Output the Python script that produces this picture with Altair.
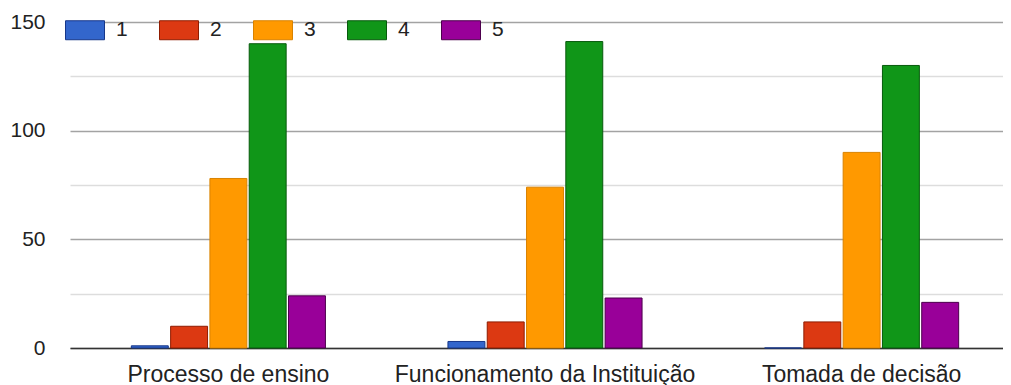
import altair as alt
import pandas as pd

categories = ["Processo de ensino", "Funcionamento da Instituição", "Tomada de decisão"]
levels = ["1", "2", "3", "4", "5"]
s1 = [1, 3, 0]
s2 = [10, 12, 12]
s3 = [78, 74, 90]
s4 = [140, 141, 130]
s5 = [24, 23, 21]
fills = ["#3366cc", "#dc3912", "#ff9900", "#109618", "#990099"]
strokes = ["#17378a", "#8f1c00", "#d98200", "#075a0c", "#4d004d"]
y_ticks = [0, 25, 50, 75, 100, 125, 150]

series = [s1, s2, s3, s4, s5]
rows = []
for lvl, vals in zip(levels, series):
    for cat, v in zip(categories, vals):
        rows.append({"cat": cat, "lvl": lvl, "val": v})
df = pd.DataFrame(rows)

FONT = "Liberation Sans"

chart = alt.Chart(df).mark_bar(strokeWidth=1).encode(
    x=alt.X("cat:N", sort=categories, title=None,
            scale=alt.Scale(range=[0, 950], paddingInner=0.3795, paddingOuter=0.19),
            axis=alt.Axis(labelAngle=0, labelFontSize=23, labelColor="#222222",
                          labelFont=FONT, ticks=False, labelPadding=15,
                          labelLimit=0,
                          domain=True, domainColor="#333333", domainWidth=1.5,
                          grid=False)),
    xOffset=alt.XOffset("lvl:N", sort=levels,
                        scale=alt.Scale(paddingInner=0.06, paddingOuter=0.03)),
    y=alt.Y("val:Q", title=None,
            scale=alt.Scale(domain=[0, 150], nice=False),
            axis=alt.Axis(values=y_ticks, ticks=False, domain=False,
                          labelFontSize=21, labelColor="#222222", labelFont=FONT,
                          labelPadding=25,
                          labelExpr="datum.value % 50 === 0 ? datum.label : ''",
                          gridColor=alt.condition("datum.value % 50 === 0",
                                                  alt.value("#a3a3a3"),
                                                  alt.value("#dddddd")),
                          gridWidth=1.3)),
    color=alt.Color("lvl:N", sort=levels,
                    scale=alt.Scale(domain=levels, range=fills),
                    legend=alt.Legend(orient="none", legendX=-5, legendY=-12,
                                      direction="horizontal", columns=5,
                                      title=None,
                                      symbolType="M-1,-0.487H1V0.487H-1Z",
                                      symbolSize=1521, symbolOpacity=1,
                                      symbolStrokeWidth=1,
                                      symbolStrokeColor="rgba(0,0,0,0.35)",
                                      labelFontSize=21, labelFont=FONT,
                                      labelColor="#222222", labelOffset=11,
                                      columnPadding=29)),
    stroke=alt.Stroke("lvl:N", sort=levels,
                      scale=alt.Scale(domain=levels, range=strokes),
                      legend=None),
).properties(
    width=933, height=326,
    autosize=alt.AutoSizeParams(type="none"),
    padding={"left": 62, "top": 14, "right": 0, "bottom": 37},
).configure(font=FONT).configure_view(stroke=None)

chart.save("out.html", embed_options={"renderer": "svg", "actions": False})
